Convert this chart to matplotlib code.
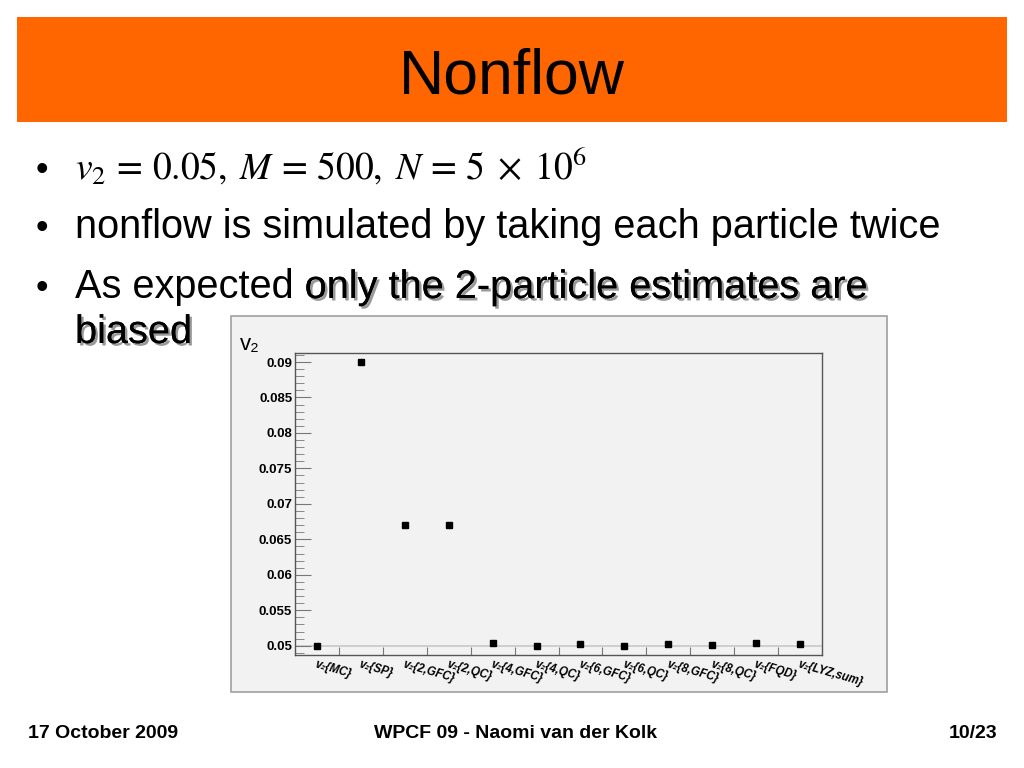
import matplotlib.pyplot as plt
import matplotlib.patheffects as pe
from matplotlib.patches import Rectangle

plt.rcParams['font.family'] = ['Liberation Sans', 'DejaVu Sans']
plt.rcParams['mathtext.fontset'] = 'stix'

# datos
metodos = ['MC', 'SP', '2,GFC', '2,QC', '4,GFC', '4,QC', '6,GFC', '6,QC',
           '8,GFC', '8,QC', 'FQD', 'LYZ,sum']
v2 = [0.0500, 0.0900, 0.0670, 0.0670, 0.05034, 0.0500, 0.05024, 0.04996,
      0.05024, 0.05005, 0.05042, 0.05024]
v2_ref = 0.05
yticks = [0.05, 0.055, 0.06, 0.065, 0.07, 0.075, 0.08, 0.085, 0.09]
ytick_labels = ['0.05', '0.055', '0.06', '0.065', '0.07', '0.075', '0.08', '0.085', '0.09']

W, H = 1024, 768
fig = plt.figure(figsize=(W / 100, H / 100), dpi=100)


def px(x, y):
    return x / W, 1 - y / H


# cabecera naranja
fig.patches.append(Rectangle(px(17, 122), 990 / W, 105 / H, transform=fig.transFigure,
                             facecolor='#FF6600', edgecolor='none', zorder=-2))
fig.text(*px(512, 93), 'Nonflow', ha='center', va='baseline', fontsize=45)

# vinietas
for yb in [180, 238, 298]:
    fig.text(*px(36, yb), '\u2022', ha='left', va='baseline', fontsize=26)
fig.text(*px(75, 180), r'$v_2\,=\,0.05,\;M\,=\,500,\;N\,=\,5\;\times\;10^6$',
         ha='left', va='baseline', fontsize=27)
fig.text(*px(75, 238), 'nonflow is simulated by taking each particle twice',
         ha='left', va='baseline', fontsize=28.6)
t3 = fig.text(*px(75, 298), 'As expected ', ha='left', va='baseline', fontsize=28.6)
sombra = [pe.withSimplePatchShadow(offset=(1.8, -1.8), shadow_rgbFace='#808080', alpha=0.8),
          pe.Normal()]
fig.canvas.draw()
bb = t3.get_window_extent(renderer=fig.canvas.get_renderer())
fig.text(bb.x1 / W, 1 - 298 / H, 'only the 2-particle estimates are', ha='left',
         va='baseline', fontsize=28.6, path_effects=sombra)
fig.text(*px(75, 343), 'biased', ha='left', va='baseline', fontsize=28.6, path_effects=sombra)

# pie de pagina
fig.text(*px(28, 738), '17 October 2009', ha='left', va='baseline', fontsize=14, fontweight='bold')
fig.text(*px(515, 738), 'WPCF 09 - Naomi van der Kolk', ha='center', va='baseline',
         fontsize=14, fontweight='bold')
fig.text(*px(997, 738), '10/23', ha='right', va='baseline', fontsize=14, fontweight='bold')

# panel gris del grafico
fig.patches.append(Rectangle(px(231, 692), 656 / W, 376 / H, transform=fig.transFigure,
                             facecolor='#F2F2F2', edgecolor='#A0A0A0', lw=1.2, zorder=-1))

ax = fig.add_axes([295 / W, 1 - 655 / H, 527 / W, 302 / H])
ax.set_zorder(2)
ax.set_facecolor('#F2F2F2')
x = [i + 0.5 for i in range(len(metodos))]
ax.axhline(v2_ref, color='#C8C8C8', lw=1.2, zorder=1)
ax.plot(x, v2, 's', color='black', ms=4.5, zorder=3)

ax.set_xlim(0, len(metodos))
ax.set_ylim(0.04869, 0.09127)
for s in ax.spines.values():
    s.set_color('#555555')
    s.set_linewidth(1.0)

ax.set_yticks(yticks)
ax.set_yticklabels(ytick_labels, fontsize=9.5, fontweight='bold')
ax.set_yticks([0.049 + 0.001 * i for i in range(43)], minor=True)
ax.tick_params(axis='y', which='major', direction='in', length=11.5, color='#777777', pad=2)
ax.tick_params(axis='y', which='minor', direction='in', length=6.5, color='#777777')
ax.set_xticks(range(1, len(metodos)))
ax.set_xticklabels([])
ax.tick_params(axis='x', which='major', direction='in', length=6, color='#777777')

for xi, m in zip(x, metodos):
    ax.text(xi, -0.01, 'v\u2082{' + m + '}', transform=ax.get_xaxis_transform(),
            rotation=-16, rotation_mode='anchor', ha='left', va='top',
            fontsize=8.3, fontweight='bold', fontstyle='italic')

fig.text(*px(240, 350), 'v\u2082', ha='left', va='baseline', fontsize=16)

fig.savefig('out.png', dpi=100)
